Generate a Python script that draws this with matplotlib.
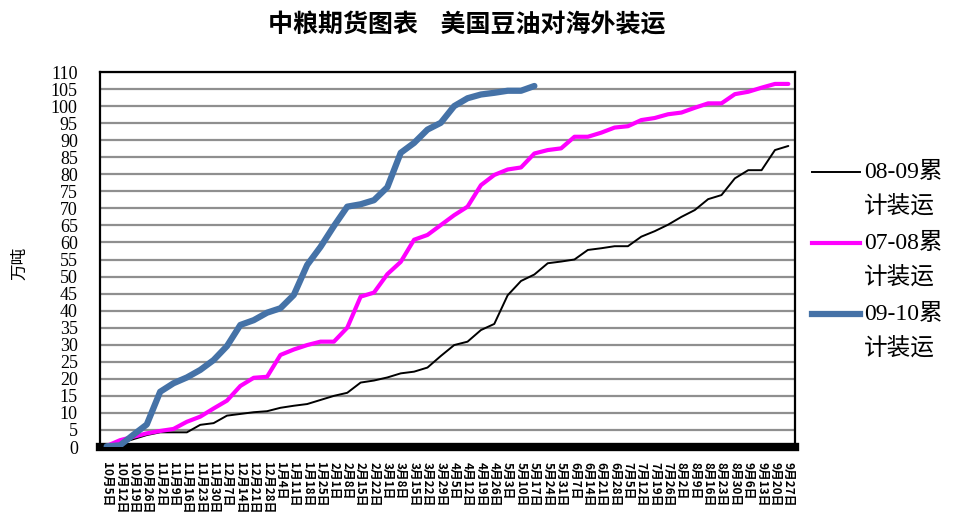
import matplotlib
matplotlib.use("Agg")
import matplotlib.pyplot as plt
from matplotlib.lines import Line2D

dates = ["10月5日", "10月12日", "10月19日", "10月26日", "11月2日", "11月9日", "11月16日",
         "11月23日", "11月30日", "12月7日", "12月14日", "12月21日", "12月28日", "1月4日",
         "1月11日", "1月18日", "1月25日", "2月1日", "2月8日", "2月15日", "2月22日", "3月1日",
         "3月8日", "3月15日", "3月22日", "3月29日", "4月5日", "4月12日", "4月19日", "4月26日",
         "5月3日", "5月10日", "5月17日", "5月24日", "5月31日", "6月7日", "6月14日", "6月21日",
         "6月28日", "7月5日", "7月12日", "7月19日", "7月26日", "8月2日", "8月9日", "8月16日",
         "8月23日", "8月30日", "9月6日", "9月13日", "9月20日", "9月27日"]

s0809 = [0.1, 1.1, 2.3, 3.5, 4.3, 4.3, 4.3, 6.5, 7.0, 9.2, 9.7, 10.2, 10.5, 11.5, 12.1,
         12.6, 13.8, 15.0, 15.9, 18.9, 19.5, 20.4, 21.6, 22.1, 23.3, 26.7, 29.9, 30.9, 34.3,
         36.1, 44.5, 48.7, 50.6, 53.9, 54.4, 55.0, 57.8, 58.3, 58.9, 58.9, 61.7, 63.3, 65.2,
         67.5, 69.5, 72.7, 73.9, 78.8, 81.2, 81.2, 87.1, 88.3]
s0708 = [0.3, 2.0, 3.0, 4.0, 4.7, 5.3, 7.4, 8.9, 11.3, 13.6, 17.9, 20.3, 20.6, 27.0, 28.6,
         29.9, 30.9, 30.9, 35.0, 44.1, 45.3, 50.7, 54.3, 60.8, 62.2, 65.1, 68.0, 70.5, 76.8,
         79.8, 81.4, 82.0, 86.1, 87.1, 87.6, 91.0, 91.0, 92.2, 93.7, 94.1, 95.9, 96.5, 97.6,
         98.1, 99.5, 100.8, 100.8, 103.5, 104.2, 105.4, 106.5, 106.5]
s0910 = [0.2, 0.5, 3.6, 6.6, 16.2, 18.7, 20.4, 22.6, 25.5, 29.6, 35.8, 37.2, 39.4, 40.7,
         44.6, 53.4, 58.7, 64.8, 70.5, 71.2, 72.4, 76.2, 86.3, 89.2, 93.1, 95.1, 100.0, 102.3,
         103.4, 103.9, 104.5, 104.5, 105.9]
labels = ["08-09累\n计装运", "07-08累\n计装运", "09-10累\n计装运"]
yticks = list(range(0, 111, 5))

W, H = 955, 517
fig = plt.figure(figsize=(W / 100, H / 100), dpi=100)
ax = fig.add_axes([100 / W, 1 - 447 / H, 695 / W, 375 / H])

series = [
    (list(range(len(s0809))), s0809, "black", 1.4, 3),
    (list(range(len(s0708))), s0708, "#FF00FF", 3.0, 3),
    (list(range(len(s0910))), s0910, "#4572A7", 4.5, 4),
]
for xs, ys, c, lw, z in series:
    ax.plot(xs, ys, color=c, lw=lw, zorder=z, solid_capstyle="round")

x = list(range(len(dates)))
ax.set_xlim(-0.5, len(dates) - 0.5)
ax.set_ylim(0, 110)
ax.set_yticks(yticks)
ax.set_yticklabels([str(v) for v in yticks], family=["Liberation Serif"], fontsize=13)
ax.yaxis.grid(True, color="#8f8f8f", lw=1.6)
ax.set_axisbelow(True)
ax.tick_params(axis="y", length=0, pad=16)
ax.tick_params(axis="x", length=0, pad=11)
ax.set_xticks(x)
ax.set_xticklabels(dates, rotation=-90, fontsize=8.5, fontweight="bold",
                   family=["Noto Sans CJK SC"])
for lab in ax.get_xticklabels():
    lab.set_rotation_mode("anchor")
    lab.set_ha("left")
    lab.set_va("center")

for side in ["top", "left", "right"]:
    ax.spines[side].set_color("black")
    ax.spines[side].set_linewidth(1.6)
ax.spines["bottom"].set_color("black")
ax.spines["bottom"].set_linewidth(6)

ax.set_ylabel("万吨", family=["Noto Sans CJK SC"], fontsize=12)
ax.yaxis.set_label_coords(-72 / 695, 0.49)

fig.text(467 / W, 1 - 25 / H, "中粮期货图表    美国豆油对海外装运", ha="center", va="center",
         fontsize=18, fontweight="bold", family=["Noto Sans CJK SC"])

# manual legend
leg_y = [172, 243, 314]
for (xs, ys, c, lw, z), lab, yy in zip(series, labels, leg_y):
    fy = 1 - yy / H
    fig.add_artist(Line2D([812 / W, 860 / W], [fy, fy], color=c, lw=lw,
                          transform=fig.transFigure))
    l1, l2 = lab.split("\n")
    fig.text(864 / W, fy, l1, ha="left", va="center", fontsize=17,
             family=["Liberation Serif", "Noto Sans CJK SC"])
    fig.text(864 / W, 1 - (yy + 34) / H, l2, ha="left", va="center", fontsize=17,
             family=["Noto Sans CJK SC"])

fig.savefig("out.png", dpi=100)
